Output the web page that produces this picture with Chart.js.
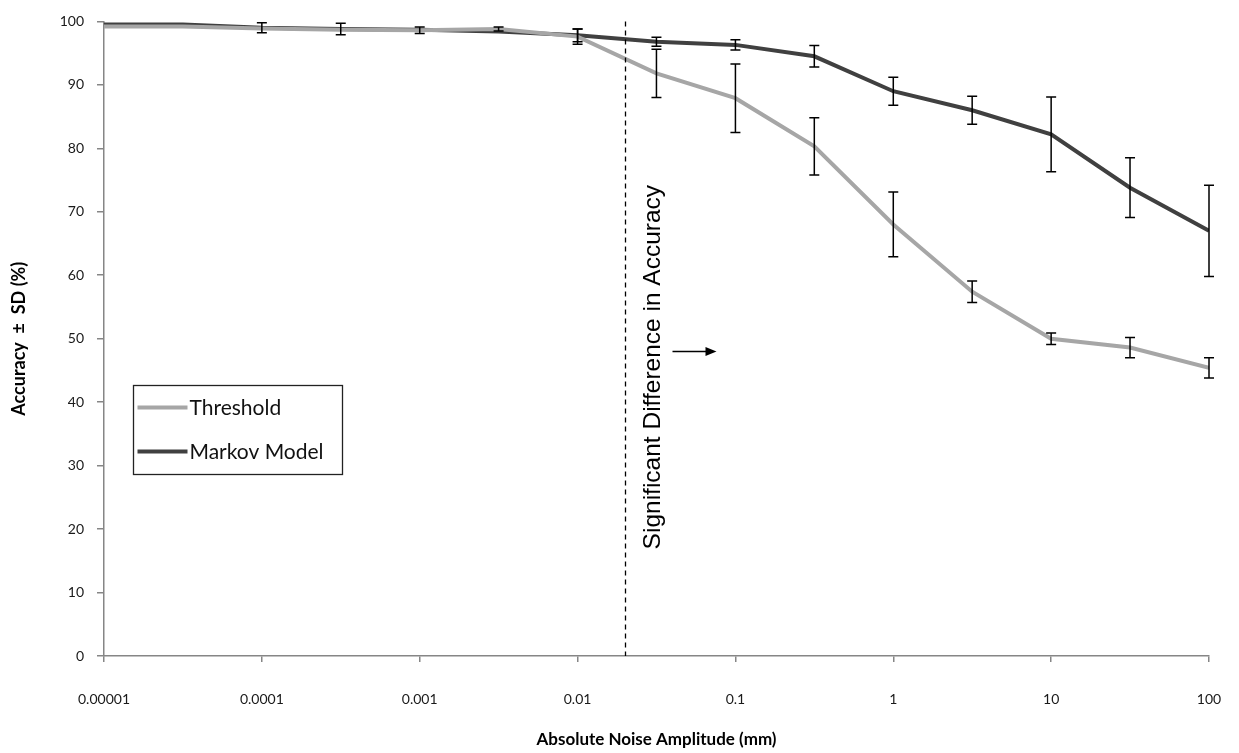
<!DOCTYPE html>
<html>
<head>
<meta charset="utf-8">
<script src="https://cdn.jsdelivr.net/npm/chart.js@4/dist/chart.umd.min.js"></script>
<style>
  body { margin: 0; background: #fff; }
  canvas { display: block; }
</style>
</head>
<body>
<canvas id="accChart" width="1239" height="753"></canvas>
<script>
// noise amplitudes (mm), half-decade steps
const noise = [0.00001, 0.0000316, 0.0001, 0.000316, 0.001, 0.00316, 0.01, 0.0316,
               0.1, 0.316, 1, 3.16, 10, 31.6, 100];

// accuracy (%) and SD
const thresholdAcc = [99.2, 99.2, 98.9, 98.7, 98.6, 98.8, 97.6, 91.8, 87.9, 80.3, 68.0, 57.4, 50.0, 48.6, 45.4];
const thresholdSD  = [0, 0, 0, 0, 0.5, 0.3, 1.2, 3.8, 5.4, 4.5, 5.1, 1.7, 0.9, 1.6, 1.6];
const markovAcc    = [99.5, 99.5, 99.0, 98.8, 98.7, 98.4, 97.8, 96.8, 96.3, 94.5, 89.0, 86.0, 82.2, 73.8, 67.0];
const markovSD     = [0, 0, 0.8, 0.9, 0, 0, 1.0, 0.7, 0.8, 1.7, 2.2, 2.2, 5.9, 4.7, 7.2];

const xTicks = [0.00001, 0.0001, 0.001, 0.01, 0.1, 1, 10, 100];
const xTickLabels = ["0.00001", "0.0001", "0.001", "0.01", "0.1", "1", "10", "100"];

const sigLine = 0.02; // where the dashed marker sits
const sigText = "Significant Difference in Accuracy";

const axisGray = "#868686";
const tickFont = { family: "Lato", size: 14 };

function toPoints(ys) {
  return noise.map((x, i) => ({ x: x, y: ys[i] }));
}

// error bars, dashed marker, note, arrow and legend box
const extras = {
  id: "extras",
  afterDatasetsDraw(chart) {
    const ctx = chart.ctx;
    const xs = chart.scales.x, ys = chart.scales.y;
    const area = chart.chartArea;

    ctx.save();
    ctx.strokeStyle = "#000";
    ctx.lineWidth = 1.5;
    chart.data.datasets.forEach(ds => {
      ds.sd.forEach((e, i) => {
        if (!e) return;
        const px = xs.getPixelForValue(noise[i]);
        const top = ys.getPixelForValue(ds.data[i].y + e);
        const bot = ys.getPixelForValue(ds.data[i].y - e);
        ctx.beginPath();
        ctx.moveTo(px, top); ctx.lineTo(px, bot);
        ctx.moveTo(px - 5, top); ctx.lineTo(px + 5, top);
        ctx.moveTo(px - 5, bot); ctx.lineTo(px + 5, bot);
        ctx.stroke();
      });
    });

    // dashed vertical line
    const lx = Math.round(xs.getPixelForValue(sigLine)) + 0.5;
    ctx.setLineDash([5, 4]);
    ctx.lineWidth = 1.3;
    ctx.beginPath();
    ctx.moveTo(lx, area.top); ctx.lineTo(lx, area.bottom);
    ctx.stroke();
    ctx.setLineDash([]);

    // rotated note
    ctx.fillStyle = "#000";
    ctx.font = "24.5px 'Liberation Sans'";
    ctx.textAlign = "left";
    ctx.textBaseline = "alphabetic";
    ctx.translate(lx + 34, ys.getPixelForValue(16.8));
    ctx.rotate(-Math.PI / 2);
    ctx.fillText(sigText, 0, 0);
    ctx.setTransform(1, 0, 0, 1, 0, 0);

    // arrow
    const ay = ys.getPixelForValue(48.0);
    ctx.lineWidth = 1.5;
    ctx.beginPath();
    ctx.moveTo(lx + 47, ay); ctx.lineTo(lx + 82, ay);
    ctx.stroke();
    ctx.beginPath();
    ctx.moveTo(lx + 91, ay); ctx.lineTo(lx + 80, ay - 4.5); ctx.lineTo(lx + 80, ay + 4.5);
    ctx.closePath();
    ctx.fill();

    // legend box
    const bx = 133.5, by = 385.5, bw = 209, bh = 89;
    ctx.fillStyle = "#fff";
    ctx.fillRect(bx, by, bw, bh);
    ctx.strokeStyle = "#222";
    ctx.lineWidth = 1.3;
    ctx.strokeRect(bx, by, bw, bh);
    ctx.font = "21px Lato";
    ctx.textBaseline = "middle";
    chart.data.datasets.forEach((ds, i) => {
      const yy = by + 22 + i * 44;
      ctx.strokeStyle = ds.borderColor;
      ctx.lineWidth = 4;
      ctx.beginPath();
      ctx.moveTo(bx + 4, yy); ctx.lineTo(bx + 54, yy);
      ctx.stroke();
      ctx.fillStyle = "#111";
      ctx.fillText(ds.label, bx + 56, yy + 1);
    });
    ctx.restore();
  }
};

new Chart(document.getElementById("accChart"), {
  type: "line",
  data: {
    datasets: [
      {
        label: "Threshold",
        data: toPoints(thresholdAcc),
        sd: thresholdSD,
        borderColor: "#a6a6a6",
        borderWidth: 4,
        pointRadius: 0,
        tension: 0
      },
      {
        label: "Markov Model",
        data: toPoints(markovAcc),
        sd: markovSD,
        borderColor: "#404040",
        borderWidth: 4,
        pointRadius: 0,
        tension: 0
      }
    ]
  },
  options: {
    responsive: false,
    animation: false,
    layout: { padding: { top: 18, right: 30, left: 0, bottom: 0 } },
    plugins: {
      legend: { display: false },
      tooltip: { enabled: false }
    },
    scales: {
      x: {
        type: "logarithmic",
        min: 0.00001,
        max: 100,
        afterBuildTicks: s => { s.ticks = xTicks.map(v => ({ value: v })); },
        afterFit: s => { s.height = 97; s.paddingLeft = 0; s.paddingRight = 0; },
        ticks: {
          autoSkip: false,
          maxRotation: 0,
          padding: 29,
          color: "#1a1a1a",
          font: tickFont,
          callback: (v, i) => xTickLabels[i]
        },
        grid: { drawOnChartArea: false, drawTicks: true, tickLength: 6, color: axisGray, lineWidth: 1.5 },
        border: { color: axisGray, width: 1.5 },
        title: {
          display: true,
          text: "Absolute Noise Amplitude (mm)",
          color: "#000",
          font: { family: "Lato", size: 17, weight: "bold" },
          padding: { top: 0, bottom: 3 }
        }
      },
      y: {
        min: 0,
        max: 100,
        afterFit: s => { s.width = 104; },
        ticks: {
          stepSize: 10,
          padding: 13,
          color: "#1a1a1a",
          font: tickFont
        },
        grid: { drawOnChartArea: false, drawTicks: true, tickLength: 7, color: axisGray, lineWidth: 1.5 },
        border: { color: axisGray, width: 1.5 },
        title: {
          display: true,
          text: "Accuracy  ±  SD (%)",
          color: "#000",
          font: { family: "Lato", size: 18, weight: "bold" },
          padding: { top: 8, bottom: 0 }
        }
      }
    }
  },
  plugins: [extras]
});
</script>
</body>
</html>
